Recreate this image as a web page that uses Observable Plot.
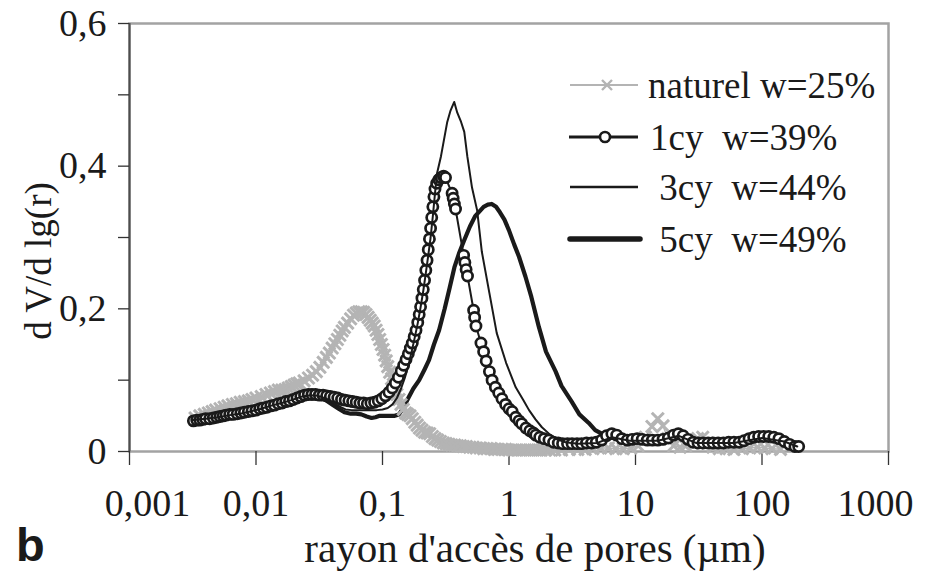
<!DOCTYPE html>
<html><head><meta charset="utf-8">
<script src="https://cdn.jsdelivr.net/npm/d3@7"></script>
<script src="https://cdn.jsdelivr.net/npm/@observablehq/plot@0.6"></script>
<style>
body{margin:0;background:#fff;}
#wrap{position:relative;width:925px;height:573px;font-family:"Liberation Serif",serif;color:#1a1a1a;overflow:hidden;}
#wrap svg{position:absolute;left:0;top:0;}
.ov{position:absolute;white-space:pre;line-height:1;}
#ylab{left:38px;top:261px;font-size:37px;transform:translate(-50%,-50%) rotate(-90deg);}
#xlab{left:535px;top:548px;font-size:41px;transform:translate(-50%,-50%);}
#blab{left:16px;top:521px;font-family:"Liberation Sans",Arial,sans-serif;font-weight:bold;font-size:47px;}
#legend{position:absolute;left:560px;top:60px;}
.lrow{position:absolute;left:0;height:50px;}
.lrow svg{position:absolute;left:0;top:0;}
.lrow span{position:absolute;top:50%;transform:translateY(-50%);font-size:37px;white-space:pre;}
</style></head><body><div id="wrap"></div>
<script>
// ---- data: pore radius r (µm) and dV/dlg(r) ----
const seriesNames = ["naturel w=25%", "1cy  w=39%", " 3cy  w=44%", " 5cy  w=49%"];

const naturelR = [0.0033,0.0036,0.0039,0.0042,0.0045,0.0048,0.0052,0.0056,0.0060,0.0065,0.0070,0.0075,0.0081,0.0087,0.0093,0.010,0.011,0.012,0.013,0.014,0.015,0.016,0.017,0.018,0.019,0.020,0.021,0.022,0.024,0.026,0.028,0.030,0.032,0.034,0.036,0.038,0.040,0.042,0.044,0.046,0.048,0.050,0.053,0.056,0.059,0.062,0.065,0.068,0.071,0.074,0.077,0.080,0.083,0.086,0.089,0.092,0.095,0.098,0.101,0.104,0.107,0.110,0.114,0.118,0.122,0.126,0.130,0.135,0.140,0.146,0.152,0.158,0.165,0.172,0.180,0.188,0.196,0.205,0.215,0.225,0.236,0.248,0.260,0.273,0.287,0.302,0.318,0.335,0.353,0.372,0.392,0.413,0.435,0.46,0.49,0.52,0.55,0.59,0.63,0.67,0.72,0.77,0.82,0.88,0.94,1.0,1.08,1.16,1.25,1.35,1.45,1.56,1.68,1.8,1.95,2.1,2.3,2.6,3.0,3.5,4.0,4.6,5.3,6.1,7.0,8.0,9.2,10.5,12,13.5,15,16.5,18,20,22.5,25,28,31,34,37,41,46,52,60,70,80,92,105,120,140];
const naturelV = [0.047,0.050,0.052,0.054,0.056,0.058,0.060,0.062,0.064,0.066,0.067,0.069,0.070,0.071,0.073,0.075,0.077,0.080,0.082,0.084,0.086,0.086,0.087,0.089,0.091,0.093,0.095,0.096,0.099,0.103,0.107,0.112,0.118,0.125,0.132,0.138,0.145,0.151,0.157,0.163,0.169,0.174,0.180,0.186,0.191,0.194,0.196,0.196,0.195,0.192,0.188,0.184,0.180,0.176,0.170,0.164,0.157,0.150,0.143,0.135,0.127,0.119,0.111,0.102,0.094,0.087,0.080,0.073,0.066,0.059,0.054,0.052,0.050,0.046,0.041,0.037,0.033,0.030,0.027,0.026,0.025,0.021,0.018,0.016,0.014,0.012,0.011,0.010,0.009,0.009,0.008,0.008,0.007,0.007,0.006,0.006,0.005,0.005,0.004,0.004,0.004,0.003,0.003,0.003,0.003,0.002,0.002,0.002,0.002,0.002,0.002,0.002,0.002,0.002,0.002,0.002,0.002,0.002,0.003,0.003,0.003,0.004,0.005,0.005,0.004,0.004,0.005,0.008,0.020,0.035,0.046,0.036,0.018,0.008,0.006,0.008,0.012,0.018,0.020,0.012,0.006,0.004,0.004,0.003,0.004,0.005,0.006,0.005,0.004,0.003];

const cy1R = [0.0032,0.0034,0.0036,0.0038,0.0040,0.0043,0.0046,0.0049,0.0052,0.0055,0.0058,0.0062,0.0066,0.0071,0.0076,0.0081,0.0087,0.0093,0.0100,0.0107,0.0114,0.0122,0.0131,0.0140,0.0150,0.0161,0.0172,0.0184,0.0197,0.0211,0.0226,0.0242,0.0259,0.0277,0.0296,0.0317,0.0339,0.0362,0.0387,0.0414,0.0443,0.0474,0.0507,0.0542,0.0580,0.0620,0.0663,0.0709,0.0758,0.0810,0.0866,0.0925,0.0988,0.1055,0.1125,0.1195,0.1265,0.1335,0.1405,0.1470,0.1535,0.1600,0.1660,0.1720,0.1780,0.1840,0.1900,0.1950,0.2000,0.2050,0.2100,0.2150,0.2200,0.2250,0.2300,0.2350,0.2400,0.2450,0.2500,0.2550,0.2600,0.2680,0.2780,0.2900,0.3040,0.3150,0.3550,0.3620,0.3700,0.3780,0.4380,0.4480,0.4580,0.4700,0.5250,0.5350,0.5480,0.6000,0.6300,0.6600,0.7000,0.7350,0.7800,0.8300,0.8800,0.9400,1.000,1.060,1.130,1.200,1.260,1.360,1.460,1.560,1.630,1.750,1.900,2.070,2.250,2.450,2.650,2.900,3.150,3.450,3.750,4.100,4.500,4.900,5.400,5.900,6.500,7.100,7.800,8.600,9.400,10.30,11.30,12.40,13.60,15.00,16.50,18.20,20.00,21.80,23.80,26.00,28.50,31.20,34.20,37.50,41.00,45.00,49.50,54.50,60.00,66.00,72.00,79.00,86.00,94.00,103.0,113.0,124.0,136.0,150.0,165.0,182.0,195.0];
const cy1V = [0.043,0.044,0.044,0.045,0.046,0.046,0.047,0.048,0.049,0.050,0.051,0.052,0.052,0.053,0.054,0.055,0.056,0.057,0.058,0.060,0.061,0.062,0.064,0.065,0.067,0.068,0.070,0.071,0.073,0.075,0.077,0.079,0.080,0.080,0.080,0.079,0.079,0.078,0.077,0.076,0.075,0.073,0.072,0.071,0.070,0.069,0.068,0.068,0.067,0.068,0.069,0.071,0.074,0.078,0.083,0.089,0.096,0.104,0.113,0.121,0.129,0.137,0.145,0.152,0.161,0.170,0.181,0.192,0.203,0.215,0.227,0.240,0.254,0.268,0.283,0.298,0.313,0.328,0.343,0.357,0.368,0.376,0.381,0.384,0.386,0.384,0.362,0.355,0.347,0.340,0.275,0.265,0.255,0.246,0.198,0.188,0.176,0.152,0.140,0.127,0.112,0.100,0.090,0.082,0.074,0.066,0.060,0.056,0.048,0.043,0.039,0.033,0.029,0.026,0.023,0.020,0.018,0.016,0.013,0.012,0.011,0.011,0.011,0.011,0.011,0.012,0.012,0.013,0.016,0.022,0.025,0.023,0.018,0.016,0.017,0.018,0.017,0.016,0.016,0.016,0.017,0.019,0.023,0.025,0.022,0.017,0.013,0.012,0.012,0.012,0.012,0.012,0.012,0.013,0.013,0.013,0.015,0.018,0.020,0.021,0.021,0.021,0.020,0.018,0.014,0.010,0.007,0.007];

const cy3R = [0.0032,0.0040,0.0050,0.0062,0.0075,0.0090,0.011,0.013,0.016,0.019,0.023,0.027,0.031,0.036,0.041,0.046,0.051,0.057,0.064,0.072,0.081,0.090,0.100,0.110,0.120,0.130,0.140,0.150,0.160,0.170,0.180,0.190,0.200,0.210,0.220,0.230,0.240,0.250,0.260,0.270,0.290,0.325,0.345,0.369,0.390,0.418,0.443,0.468,0.510,0.560,0.610,0.700,0.800,0.950,1.130,1.300,1.440,1.620,1.820,2.100,2.400,2.800,3.500,5.000,6.500,9.000,15.00,22.00,30.00,60.00,100.0,150.0,190.0];
const cy3V = [0.044,0.046,0.048,0.051,0.053,0.056,0.060,0.064,0.068,0.072,0.077,0.079,0.078,0.074,0.068,0.063,0.059,0.058,0.058,0.058,0.058,0.058,0.059,0.061,0.066,0.075,0.088,0.103,0.120,0.140,0.160,0.180,0.202,0.225,0.250,0.275,0.300,0.330,0.362,0.390,0.414,0.462,0.478,0.490,0.475,0.462,0.448,0.414,0.370,0.338,0.280,0.222,0.166,0.124,0.090,0.072,0.058,0.045,0.034,0.024,0.017,0.013,0.011,0.012,0.020,0.015,0.015,0.022,0.012,0.012,0.019,0.014,0.007];

const cy5R = [0.0032,0.0040,0.0050,0.0062,0.0075,0.0090,0.011,0.013,0.016,0.019,0.023,0.027,0.031,0.035,0.040,0.045,0.050,0.056,0.062,0.068,0.075,0.082,0.088,0.095,0.105,0.115,0.125,0.135,0.145,0.160,0.175,0.195,0.215,0.233,0.255,0.280,0.310,0.340,0.370,0.405,0.440,0.490,0.540,0.580,0.630,0.680,0.730,0.790,0.850,0.920,1.000,1.100,1.200,1.350,1.500,1.720,1.960,2.340,2.600,3.130,3.600,4.270,4.800,5.400,6.500,9.000,15.00,22.00,30.00,60.00,100.0,150.0,190.0];
const cy5V = [0.044,0.046,0.048,0.051,0.053,0.056,0.060,0.064,0.068,0.072,0.077,0.079,0.078,0.073,0.066,0.060,0.055,0.053,0.053,0.052,0.049,0.047,0.048,0.050,0.050,0.050,0.050,0.052,0.060,0.075,0.088,0.100,0.115,0.128,0.150,0.170,0.200,0.230,0.258,0.279,0.295,0.315,0.330,0.336,0.343,0.346,0.347,0.343,0.335,0.325,0.310,0.290,0.273,0.245,0.217,0.175,0.140,0.112,0.092,0.070,0.052,0.040,0.030,0.025,0.022,0.015,0.015,0.022,0.012,0.012,0.019,0.014,0.007];

const xTicks = [0.001, 0.01, 0.1, 1, 10, 100, 1000];
const xTickLabels = ["0,001", "0,01", "0,1", "1", "10", "100", "1000"];
const yTicks = [0, 0.1, 0.2, 0.3, 0.4, 0.5, 0.6];
const yLabelTicks = [0, 0.2, 0.4, 0.6];
const yTickLabels = ["0", "0,2", "0,4", "0,6"];

// ---- build ----
const toRows = (R, V) => R.map((r, i) => ({r, v: V[i]}));
const naturel = toRows(naturelR, naturelV);
const cy1 = toRows(cy1R, cy1V);
const cy3 = toRows(cy3R, cy3V);
const cy5 = toRows(cy5R, cy5V);

const xFmt = d => xTickLabels[xTicks.indexOf(d)];
const yFmt = d => yTickLabels[yLabelTicks.findIndex(t => Math.abs(t - d) < 1e-9)];
const tickFont = {fontSize: 38, fill: "#1a1a1a"};

const chart = Plot.plot({
  width: 925, height: 573,
  marginLeft: 129, marginRight: 37, marginTop: 23, marginBottom: 122,
  style: {fontFamily: "'Liberation Serif', serif", background: "white", color: "#1a1a1a", overflow: "visible"},
  x: {type: "log", domain: [0.001, 1000]},
  y: {domain: [0, 0.6]},
  marks: [
    Plot.frame({stroke: "#a3a3a3", strokeWidth: 2.5}),
    Plot.ruleX([0.001], {stroke: "#4d4d4d", strokeWidth: 2}),
    Plot.axisY({ticks: yTicks, tickSize: 11, tickFormat: () => "", stroke: "#333", strokeWidth: 1.3, label: null}),
    Plot.axisY({ticks: yLabelTicks, tickSize: 0, tickPadding: 23, tickFormat: yFmt, label: null, ...tickFont}),
    Plot.axisX({ticks: xTicks, tickSize: 14, tickFormat: () => "", stroke: "#333", strokeWidth: 1.3, label: null}),
    Plot.axisX({ticks: xTicks.slice(1, -1), tickSize: 0, tickPadding: 38, tickFormat: xFmt, label: null, ...tickFont}),
    Plot.axisX({ticks: xTicks.slice(0, 1), tickSize: 0, tickPadding: 38, tickFormat: xFmt, label: null, dx: 18, ...tickFont}),
    Plot.axisX({ticks: xTicks.slice(-1), tickSize: 0, tickPadding: 38, tickFormat: xFmt, label: null, dx: -13, ...tickFont}),
    Plot.line(cy5, {x: "r", y: "v", stroke: "#1a1a1a", strokeWidth: 4.2, curve: "linear"}),
    Plot.line(naturel, {x: "r", y: "v", stroke: "#b4b4b4", strokeWidth: 1.5}),
    Plot.dot(naturel, {x: "r", y: "v", symbol: "times", r: 5.5, stroke: "#b4b4b4", strokeWidth: 3}),
    Plot.line(cy1, {x: "r", y: "v", stroke: "#1a1a1a", strokeWidth: 2}),
    Plot.dot(cy1, {x: "r", y: "v", r: 5.1, fill: "white", stroke: "#1a1a1a", strokeWidth: 2.7}),
    Plot.line(cy3, {x: "r", y: "v", stroke: "#1a1a1a", strokeWidth: 2})
  ]
});

const wrap = document.getElementById("wrap");
wrap.appendChild(chart);

function addDiv(id, text) {
  const d = document.createElement("div");
  d.className = "ov"; d.id = id; d.textContent = text;
  wrap.appendChild(d);
}
addDiv("ylab", "d V/d lg(r)");
addDiv("xlab", "rayon d'accès de pores (µm)");
addDiv("blab", "b");

// legend
const legend = document.createElement("div");
legend.id = "legend";
const rowTops = [0, 52, 102, 154];
const textLeft = [88, 90, 90, 90];
const swatches = [
  `<line x1="10" y1="25" x2="78" y2="25" stroke="#b4b4b4" stroke-width="2"/><path d="M42,20L52,30M52,20L42,30" stroke="#b4b4b4" stroke-width="2.4"/>`,
  `<line x1="9" y1="25" x2="78" y2="25" stroke="#1a1a1a" stroke-width="3"/><circle cx="45" cy="25" r="5" fill="white" stroke="#1a1a1a" stroke-width="2.6"/>`,
  `<line x1="10" y1="25" x2="78" y2="25" stroke="#1a1a1a" stroke-width="2.6"/>`,
  `<line x1="10" y1="25" x2="80" y2="25" stroke="#1a1a1a" stroke-width="5.5" stroke-linecap="round"/>`
];
seriesNames.forEach((name, i) => {
  const row = document.createElement("div");
  row.className = "lrow";
  row.style.top = rowTops[i] + "px";
  row.style.width = "330px";
  row.innerHTML = `<svg width="90" height="50">${swatches[i]}</svg><span style="left:${textLeft[i]}px">${name}</span>`;
  legend.appendChild(row);
});
wrap.appendChild(legend);
</script>
</body></html>
